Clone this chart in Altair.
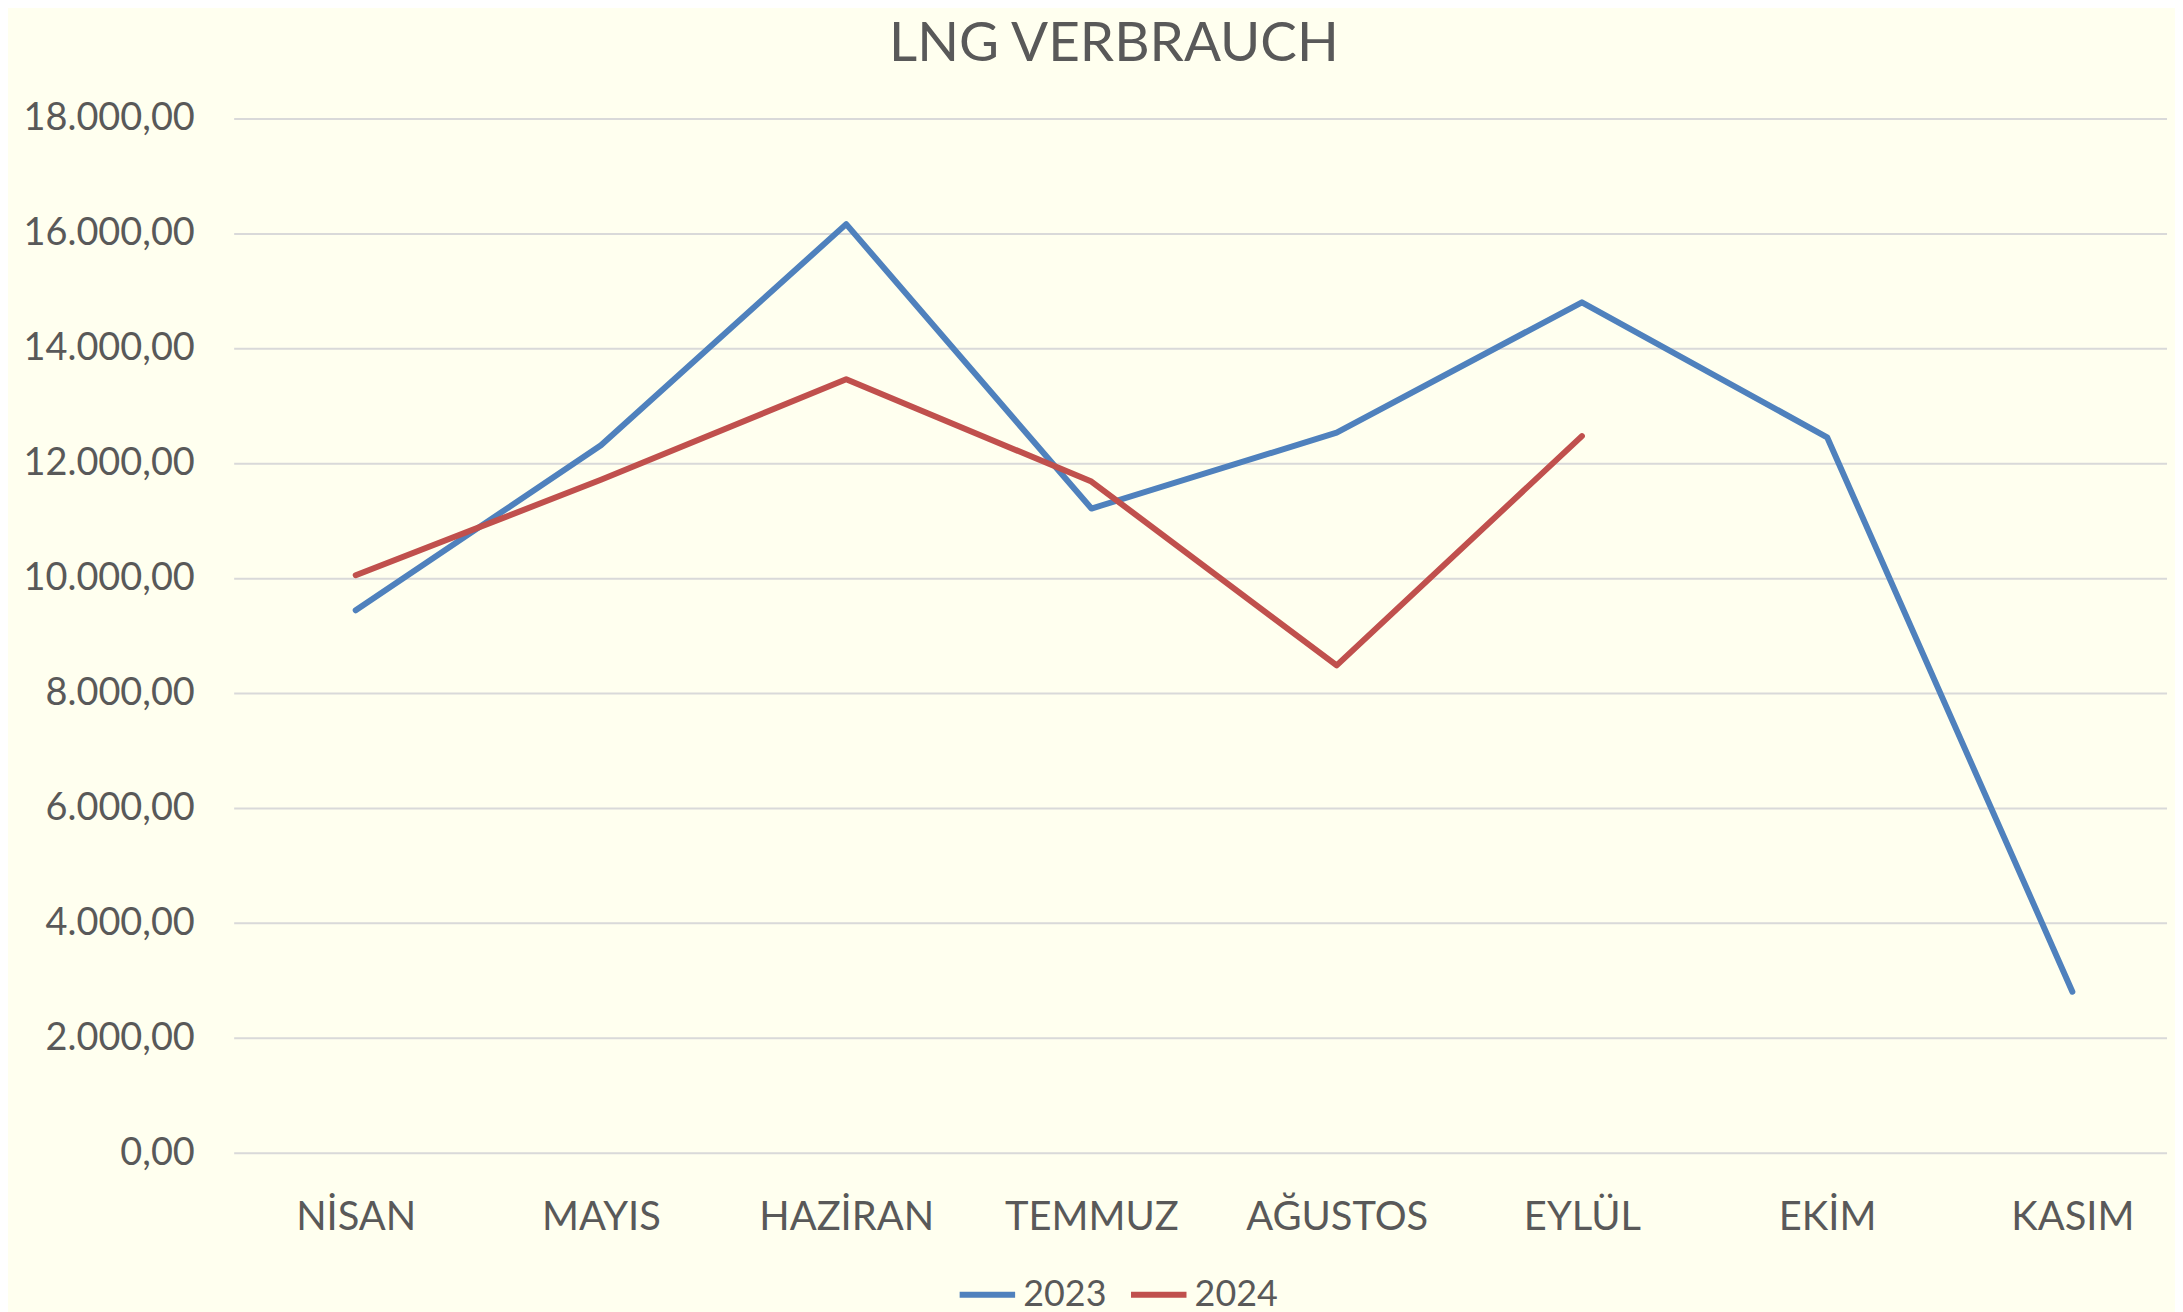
import altair as alt
import pandas as pd

months = ["NİSAN", "MAYIS", "HAZİRAN", "TEMMUZ", "AĞUSTOS", "EYLÜL", "EKİM", "KASIM"]
v2023 = [9450, 12320, 16170, 11220, 12540, 14810, 12460, 2810]
v2024 = [10060, 11720, 13470, 11690, 8490, 12480]
series = ["2023", "2024"]
colors = ["#4F81BD", "#C0504D"]
y_ticks = [0, 2000, 4000, 6000, 8000, 10000, 12000, 14000, 16000, 18000]

rows = []
for m, v in zip(months, v2023):
    rows.append({"Monat": m, "Jahr": "2023", "Wert": v})
for m, v in zip(months, v2024):
    rows.append({"Monat": m, "Jahr": "2024", "Wert": v})
df = pd.DataFrame(rows)
grid_df = pd.DataFrame({"Wert": y_ticks})

FONT = "Lato"
TXT = "#595959"
W, H = 1940, 1038

label_expr = ("replace(replace(replace(format(datum.value, ',.2f'), ',', '#'), '.', ','), '#', '.')")

y_scale = alt.Scale(domain=[0, 18000], nice=False)


def y_axis():
    return alt.Axis(title=None, values=y_ticks, labelExpr=label_expr, labelFontSize=38,
                    labelFont=FONT, labelColor=TXT, labelPadding=40, domain=False,
                    ticks=False, grid=False)


grid = alt.Chart(grid_df).mark_rule(color="#D9D9D9", strokeWidth=2).encode(
    y=alt.Y("Wert:Q", scale=y_scale, axis=y_axis()),
    x=alt.value(0),
    x2=alt.value(W),
)

lines = alt.Chart(df).mark_line(strokeWidth=6, strokeCap="round", strokeJoin="round").encode(
    x=alt.X("Monat:N", sort=months,
            scale=alt.Scale(type="point", range=[122, 1845], padding=0),
            axis=alt.Axis(title=None, labelAngle=0, labelFontSize=40, labelFont=FONT,
                          labelColor=TXT, labelPadding=45, labelLimit=0, domain=False,
                          ticks=False, grid=False)),
    y=alt.Y("Wert:Q", scale=y_scale, axis=y_axis()),
    color=alt.Color("Jahr:N", scale=alt.Scale(domain=series, range=colors),
                    legend=alt.Legend(title=None, orient="none", direction="horizontal",
                                      legendX=725, legendY=1149, symbolType="stroke",
                                      symbolStrokeWidth=6, symbolSize=3100,
                                      labelFontSize=36, labelFont=FONT, labelColor=TXT,
                                      labelOffset=5, columnPadding=12)),
)

chart = alt.layer(grid, lines).properties(
    width=W,
    height=H,
    title=alt.TitleParams("LNG VERBRAUCH", fontSize=55, font=FONT, fontWeight="normal",
                          color=TXT, anchor="middle", dx=-87, offset=27),
    background="#FFFFEF",
    padding={"left": 227, "top": 109, "right": 8, "bottom": 157},
    autosize=alt.AutoSizeParams(type="none"),
).configure_view(stroke=None)

chart.save("out.html", embed_options={"renderer": "svg", "actions": False})
